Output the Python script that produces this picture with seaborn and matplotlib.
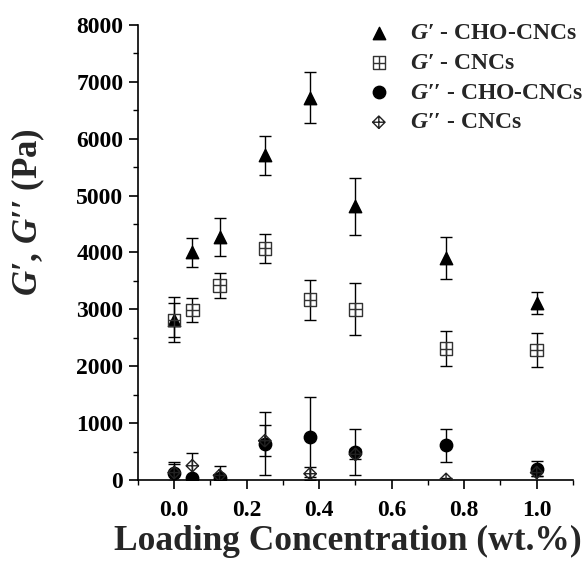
import numpy as np
import matplotlib
matplotlib.use("Agg")
import matplotlib.pyplot as plt
import seaborn as sns
from matplotlib.path import Path
from matplotlib.ticker import MultipleLocator


# loading concentrations (wt.%)
conc = [0.0, 0.05, 0.125, 0.25, 0.375, 0.5, 0.75, 1.0]

# G' - CHO-CNCs
gp_cho = [2820, 4000, 4270, 5710, 6720, 4810, 3910, 3110]
gp_cho_err = [400, 250, 340, 340, 450, 500, 370, 190]
# G' - CNCs
gp_cnc = [2810, 2990, 3420, 4070, 3170, 3000, 2310, 2280]
gp_cnc_err = [300, 210, 220, 250, 350, 460, 310, 300]
# G'' - CHO-CNCs
gpp_cho = [120, 40, 40, 640, 760, 490, 610, 200]
gpp_cho_err = [190, 30, 30, 550, 700, 400, 290, 130]
# G'' - CNCs
gpp_cnc = [130, 250, 80, 690, 110, 450, 10, 130]
gpp_cnc_err = [150, 220, 160, 270, 110, 90, 30, 60]

labels = ["$G\u2032$ - CHO-CNCs", "$G\u2032$ - CNCs",
          "$G\u2032\u2032$ - CHO-CNCs", "$G\u2032\u2032$ - CNCs"]


def boxed_plus(shape):
    """outline (square or diamond) with a plus inside"""
    if shape == "square":
        outline = [(-1, -1), (1, -1), (1, 1), (-1, 1), (-1, -1)]
    else:
        outline = [(0, -1.3), (1.3, 0), (0, 1.3), (-1.3, 0), (0, -1.3)]
    ext = 1.0 if shape == "square" else 1.3
    verts = outline + [(-ext, 0), (ext, 0), (0, -ext), (0, ext)]
    codes = ([Path.MOVETO] + [Path.LINETO] * 4 +
             [Path.MOVETO, Path.LINETO, Path.MOVETO, Path.LINETO])
    return Path(verts, codes)


sns.set_style("ticks")
plt.rcParams["font.family"] = ["Liberation Serif", "DejaVu Serif"]
plt.rcParams["font.weight"] = "bold"
plt.rcParams["mathtext.fontset"] = "custom"
plt.rcParams["mathtext.rm"] = "Liberation Serif:bold"
plt.rcParams["mathtext.it"] = "Liberation Serif:italic:bold"
plt.rcParams["mathtext.bf"] = "Liberation Serif:bold"

fig = plt.figure(figsize=(5.87, 5.66), dpi=100)
ax = fig.add_axes([0.235, 0.152, 0.741, 0.804])

series = [
    (gp_cho, gp_cho_err, "^", "black", "black", 80),
    (gp_cnc, gp_cnc_err, boxed_plus("square"), "none", "#333333", 80),
    (gpp_cho, gpp_cho_err, "o", "black", "black", 80),
    (gpp_cnc, gpp_cnc_err, boxed_plus("diamond"), "none", "#222222", 80),
]

# error bars first, markers on top
for vals, err, *_ in series:
    ax.errorbar(conc, vals, yerr=err, fmt="none", ecolor="black",
                elinewidth=1.0, capsize=4, capthick=1.0, zorder=2)

for (vals, err, mk, fc, ec, sz), lab in zip(series, labels):
    sns.scatterplot(x=conc, y=vals, marker=mk, s=sz, facecolors=fc,
                    edgecolor=ec, linewidth=1.0, label=lab, ax=ax, zorder=3)

ax.set_xlim(-0.1, 1.1)
ax.set_ylim(0, 8000)
ax.xaxis.set_major_locator(MultipleLocator(0.2))
ax.xaxis.set_minor_locator(MultipleLocator(0.1))
ax.yaxis.set_major_locator(MultipleLocator(1000))
ax.yaxis.set_minor_locator(MultipleLocator(500))
ax.set_xticks([0.0, 0.2, 0.4, 0.6, 0.8, 1.0])
ax.set_xticklabels(["0.0", "0.2", "0.4", "0.6", "0.8", "1.0"])

sns.despine(ax=ax)
for side in ["left", "bottom"]:
    ax.spines[side].set_linewidth(1.2)
    ax.spines[side].set_color("black")
ax.tick_params(which="major", direction="out", length=6.5, width=1.2,
               labelsize=17, colors="black", pad=4)
ax.tick_params(axis="x", which="major", pad=8)
ax.tick_params(which="minor", direction="out", length=3.5, width=1.0,
               colors="black")

ax.set_xlabel("Loading Concentration (wt.%)", fontsize=25.5, fontweight="bold")
ax.xaxis.set_label_coords(0.483, -0.098)
ax.set_ylabel("$G\u2032$, $G\u2032\u2032$ (Pa)", fontsize=25,
              fontweight="bold")
ax.yaxis.set_label_coords(-0.21, 0.589)

leg = ax.legend(loc="upper right", frameon=False, fontsize=17,
                handletextpad=0.3, labelspacing=0.35, borderaxespad=0.0,
                bbox_to_anchor=(1.045, 1.026))
for h in leg.legend_handles:
    h.set_sizes([80])

fig.savefig("out.png", dpi=100)
